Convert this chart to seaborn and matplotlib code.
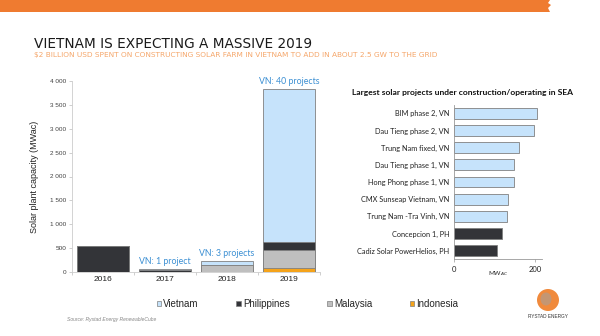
import matplotlib
matplotlib.use("Agg")
import matplotlib.pyplot as plt
import seaborn as sns
import numpy as np
from matplotlib.patches import Patch, Rectangle, Ellipse, Polygon

# ---------------- data ----------------
years = ["2016", "2017", "2018", "2019"]
vietnam = [0, 8, 85, 3210]
philippines = [550, 50, 0, 160]
malaysia = [0, 0, 150, 380]
indonesia = [0, 0, 0, 80]
vn_labels = ["", "VN: 1 project", "VN: 3 projects", "VN: 40 projects"]
y_ticks = [0, 500, 1000, 1500, 2000, 2500, 3000, 3500, 4000]

projects = ["BIM phase 2, VN", "Dau Tieng phase 2, VN", "Trung Nam fixed, VN",
            "Dau Tieng phase 1, VN", "Hong Phong phase 1, VN", "CMX Sunseap Vietnam, VN",
            "Trung Nam -Tra Vinh, VN", "Concepcion 1, PH", "Cadiz Solar PowerHelios, PH"]
project_mw = [206, 199, 162, 148, 148, 133, 132, 120, 106]
project_country = ["VN", "VN", "VN", "VN", "VN", "VN", "VN", "PH", "PH"]

# ---------------- style ----------------
C_VN = "#c6e3fb"
C_PH = "#333438"
C_MY = "#bfbfbf"
C_ID = "#f5a31a"
EDGE = "#808080"
ORANGE = "#ef7b30"
BLUE_TXT = "#3b8fd3"

sns.set_theme(style="white")
plt.rcParams["font.family"] = ["Liberation Sans", "DejaVu Sans"]

W, H = 600, 336
fig = plt.figure(figsize=(6, 3.36), dpi=100)

def fx(px):
    return px / W

def fy(py):
    return 1 - py / H

# header band with a ragged end
fig.patches.append(Rectangle((0, fy(12)), fx(545), 12 / H, transform=fig.transFigure,
                             color=ORANGE, lw=0, zorder=0))
fig.patches.append(Polygon([(fx(544), fy(0)), (fx(550), fy(0)), (fx(548), fy(3)),
                            (fx(551), fy(5)), (fx(548), fy(8)), (fx(550), fy(12)),
                            (fx(544), fy(12))], closed=True, transform=fig.transFigure,
                           color=ORANGE, lw=0, zorder=0))
fig.text(fx(34), fy(44), "VIETNAM IS EXPECTING A MASSIVE 2019", fontsize=9.8,
         family="DejaVu Sans", color="#1a1a1a", va="center", ha="left")
fig.text(fx(34), fy(54.5),
         "$2 BILLION USD SPENT ON CONSTRUCTING SOLAR FARM IN VIETNAM TO ADD IN ABOUT 2.5 GW TO THE GRID",
         fontsize=5.3, family="DejaVu Sans", color="#f5a66a", va="center", ha="left")

# ---------------- left stacked chart ----------------
ax = fig.add_axes([fx(72), fy(272), fx(320) - fx(72), (272 - 81) / H])
lay1 = np.array(indonesia)
lay2 = lay1 + np.array(malaysia)
lay3 = lay2 + np.array(philippines)
lay4 = lay3 + np.array(vietnam)
for vals, col in [(lay4, C_VN), (lay3, C_PH), (lay2, C_MY), (lay1, C_ID)]:
    sns.barplot(x=years, y=vals, color=col, saturation=1, width=0.85,
                edgecolor=EDGE, linewidth=0.6, ax=ax)
ax.set_xlim(-0.5, 3.5)
ax.set_ylim(0, 4000)
ax.set_yticks(y_ticks)
ax.set_yticklabels([f"{v:,}".replace(",", " ") for v in y_ticks], fontsize=4.6, color="#404040")
ax.tick_params(axis="x", labelsize=6, colors="#222222", length=0, pad=3)
ax.tick_params(axis="y", length=2, width=0.5, color="#bbbbbb", pad=2, left=True)
ax.set_xticks([-0.5, 0.5, 1.5, 2.5, 3.5], minor=True)
ax.tick_params(axis="x", which="minor", length=2, width=0.5, color="#bbbbbb", bottom=True)
ax.set_xlabel("")
ax.set_ylabel("Solar plant capacity (MWac)", fontsize=6.5, color="#222222", labelpad=8)
for s in ["top", "right"]:
    ax.spines[s].set_visible(False)
for s in ["left", "bottom"]:
    ax.spines[s].set_color("#cccccc")
    ax.spines[s].set_linewidth(0.6)
for i, lab in enumerate(vn_labels):
    if lab:
        ax.annotate(lab, (i, lay4[i]), xytext=(0, 2), textcoords="offset points",
                    ha="center", va="bottom", fontsize=6.3, color=BLUE_TXT, family="Lato")

# ---------------- right horizontal chart ----------------
ax2 = fig.add_axes([fx(453.7), fy(259.3), fx(541.7) - fx(453.7), (259.3 - 104.7) / H])
sns.barplot(x=project_mw, y=projects, hue=project_country, palette={"VN": C_VN, "PH": C_PH},
            dodge=False, orient="h", width=0.64, saturation=1, edgecolor=EDGE,
            linewidth=0.6, legend=False, ax=ax2)
ax2.set_xlim(0, 217)
ax2.set_ylim(8.5, -0.5)
ax2.set_xticks([0, 200])
ax2.set_xticklabels(["0", "200"], fontsize=5.5, family="Lato", color="#222222")
ax2.tick_params(axis="y", labelsize=5.3, length=0, pad=3, colors="#222222")
for t in ax2.get_yticklabels():
    t.set_family("Lato")
ax2.tick_params(axis="x", length=2, width=0.5, color="#999999", pad=3, bottom=True)
ax2.set_xlabel("MW$_{AC}$", fontsize=4.5, family="Lato", color="#222222", labelpad=-3)
ax2.set_ylabel("")
for s in ["top", "right"]:
    ax2.spines[s].set_visible(False)
for s in ["left", "bottom"]:
    ax2.spines[s].set_color("#999999")
    ax2.spines[s].set_linewidth(0.6)
fig.text(fx(462), fy(93), "Largest solar projects under construction/operating in SEA",
         fontsize=6.1, family="Lato", weight="bold", color="#111111", ha="center", va="center")

# ---------------- legend ----------------
handles = [Patch(facecolor=C_VN, edgecolor=EDGE, lw=0.5, label="Vietnam"),
           Patch(facecolor=C_PH, edgecolor=EDGE, lw=0.5, label="Philippines"),
           Patch(facecolor=C_MY, edgecolor=EDGE, lw=0.5, label="Malaysia"),
           Patch(facecolor=C_ID, edgecolor=EDGE, lw=0.5, label="Indonesia")]
fig.legend(handles=handles, loc="center", bbox_to_anchor=(fx(307.5), fy(304)), ncol=4,
           frameon=False, fontsize=7, handlelength=0.45, handleheight=0.45,
           handletextpad=0.2, columnspacing=3.9, borderaxespad=0, borderpad=0)

# ---------------- footer ----------------
fig.text(fx(67), fy(319), "Source: Rystad Energy RenewableCube", fontsize=3.6, style="italic",
         color="#888888", ha="left", va="center")
fig.patches.append(Ellipse((fx(548), fy(300)), 22 / W, 22 / H, transform=fig.transFigure,
                           facecolor="#f08a3c", edgecolor="none"))
fig.patches.append(Ellipse((fx(546), fy(299)), 11 / W, 13 / H, transform=fig.transFigure,
                           facecolor="#a0a0a0", edgecolor="none", alpha=0.55))
fig.text(fx(548), fy(317), "RYSTAD ENERGY", fontsize=3.4, color="#333333",
         ha="center", va="center")

fig.savefig("out.png", dpi=100)
